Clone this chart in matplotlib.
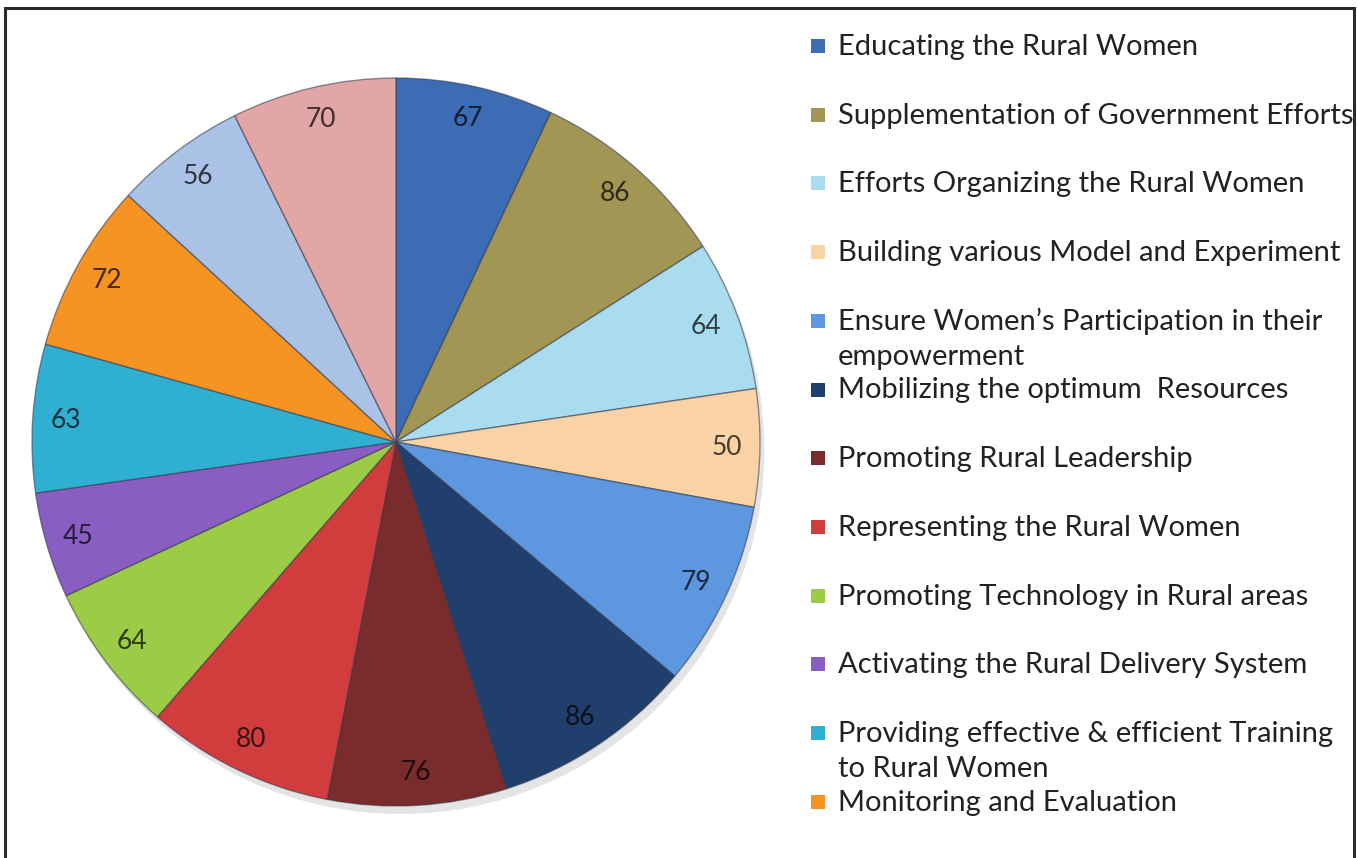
import matplotlib
matplotlib.use("Agg")
import matplotlib.pyplot as plt
from matplotlib.patches import Rectangle, Circle
from matplotlib.transforms import Bbox, TransformedBbox
import numpy as np

categories = [
    "Educating the Rural Women",
    "Supplementation of Government Efforts",
    "Efforts Organizing the Rural Women",
    "Building various Model and Experiment",
    "Ensure Women\u2019s Participation in their\nempowerment",
    "Mobilizing the optimum  Resources",
    "Promoting Rural Leadership",
    "Representing the Rural Women",
    "Promoting Technology in Rural areas",
    "Activating the Rural Delivery System",
    "Providing effective & efficient Training\nto Rural Women",
    "Monitoring and Evaluation",
    "Item 13",
    "Item 14",
]
values = [67, 86, 64, 50, 79, 86, 76, 80, 64, 45, 63, 72, 56, 70]
colors = ["#3b6cb4", "#a19653", "#a9dcef", "#f9d3a6", "#5c97df", "#203f6d",
          "#7a2b2b", "#d13c3c", "#9ccb45", "#8a5dc2", "#2fb0d3", "#f59323",
          "#a9c2e6", "#e2a6a6"]
legend_count = 12

W, H, DPI = 1357, 858, 100
fig = plt.figure(figsize=(W / DPI, H / DPI), dpi=DPI)
fig.patch.set_facecolor("white")

FONT = "Lato"

# pie axes
cx, cy, r = 396, 442, 364
lim = 1.03
ax = fig.add_axes([(cx - r * lim) / W, (H - cy - r * lim) / H,
                   2 * r * lim / W, 2 * r * lim / H])
ax.set_aspect("equal")

# soft shadow
ax.add_patch(Circle((0.012, -0.022), 1.0, color="#e4e4e4", zorder=0, lw=0))

total = sum(values)
wedges, texts, autotexts = ax.pie(
    values, colors=colors, startangle=90, counterclock=False, radius=1.0,
    autopct=lambda p: f"{round(p * total / 100)}", pctdistance=0.91,
    wedgeprops=dict(edgecolor=(0.2, 0.22, 0.3, 0.55), linewidth=1.0),
    textprops=dict(fontsize=19, family=FONT),
)
for w in wedges:
    w.set_zorder(1)
for t, c in zip(autotexts, colors):
    rgb = np.array(matplotlib.colors.to_rgb(c))
    t.set_color(tuple(rgb * 0.28))
ax.set_xlim(-lim, lim)
ax.set_ylim(-lim, lim)
ax.axis("off")

# frame border
fig.patches.append(Rectangle((5 / W, -0.02), (1354 - 5) / W, (H - 8) / H + 0.02,
                             transform=fig.transFigure, fill=False,
                             edgecolor="#2b2b2b", linewidth=2.2, zorder=5))

clip = TransformedBbox(Bbox([[0, 0], [1353 / W, 1]]), fig.transFigure)

# legend
sq = 14
x_sq, x_txt = 811, 838
for i in range(legend_count):
    base = 55 + i * 68.7
    fig.patches.append(Rectangle((x_sq / W, (H - base + 2) / H), sq / W, sq / H,
                                 transform=fig.transFigure, facecolor=colors[i],
                                 edgecolor="none"))
    for j, line in enumerate(categories[i].split("\n")):
        t = fig.text(x_txt / W, (H - base - j * 35) / H, line, fontsize=21,
                     family=FONT, color="#222222", ha="left", va="baseline")
        t.set_clip_on(True)
        t.set_clip_box(clip)

fig.savefig("out.png", dpi=DPI, facecolor="white")
